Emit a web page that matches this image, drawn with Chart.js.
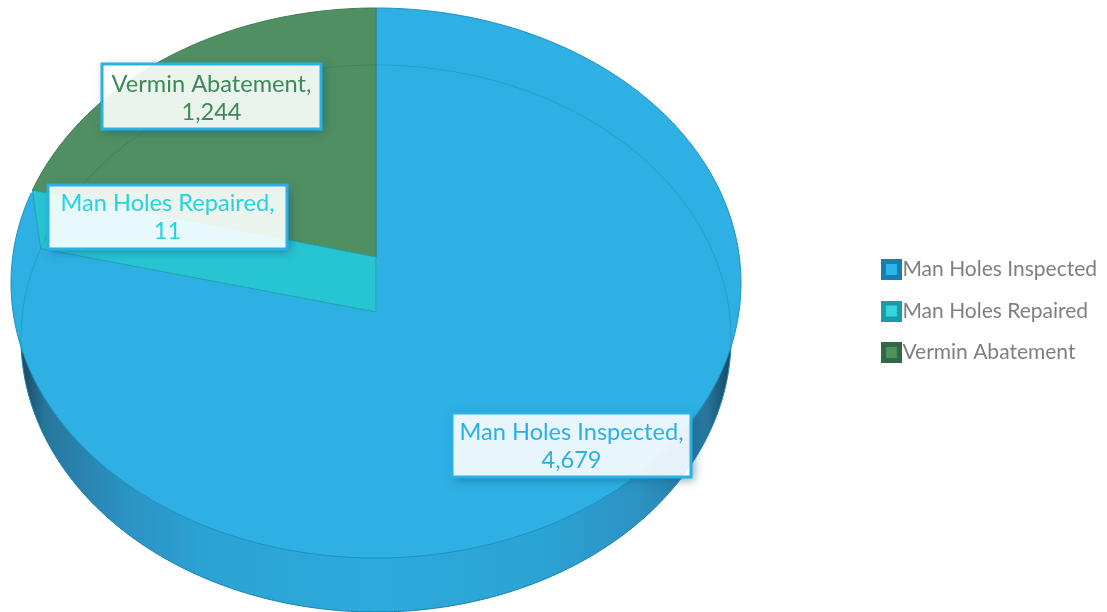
<!DOCTYPE html>
<html>
<head>
<meta charset="utf-8">
<title>Man Holes</title>
<script src="https://cdn.jsdelivr.net/npm/chart.js@4"></script>
<style>
  html, body { margin: 0; padding: 0; background: #fff; overflow: hidden; }
  canvas { display: block; }
</style>
</head>
<body>
<canvas id="chart" width="1107" height="612"></canvas>
<script>
// ===== data =====
const categories = ["Man Holes Inspected", "Man Holes Repaired", "Vermin Abatement"];
const values = [4679, 11, 1244];

// ===== styles =====
const FONT = "Lato, sans-serif";
const faceColors = ["#2EB0E4", "#26C5D1", "#4F8F61"];
const rimColors = ["#1E90C0", "#1FA5B0", "#3F7C52"];
const labelColors = ["#2BB0E6", "#28D2DC", "#3C8A58"];
const swatchOuter = ["#1A7DB1", "#1A9CA6", "#2F6A44"];
const swatchInner = ["#2EB4EC", "#35D4DF", "#4F9060"];
// label box as [left, top, right, bottom], then first text line below the box top
const labelBoxes = [[452, 413, 691, 477], [48, 185, 287, 249], [102, 64, 321, 129]];
const labelTextTop = [19, 18, 20];

// the pie is tilted: two rims (top of the disc, bottom of the disc) seen in perspective
const topRim = makeRim(376, 257, 8, 558, 365);
const bottomRim = makeRim(376, 312, 65, 612, 355);

// homography y = (q*v + apex) / (1 + k*v), so v=-1 lands on top and v=1 on bottom
function makeRim(cx, apex, top, bottom, rx) {
  const k = (bottom + top - 2 * apex) / (top - bottom);
  const q = (bottom * (1 + k)) - apex;
  return { cx, apex, k, q, d: rx * Math.sqrt(1 - k * k) };
}

function project(rim, angle) {
  const u = Math.cos(angle), v = Math.sin(angle);
  const w = 1 + rim.k * v;
  return [rim.cx + rim.d * u / w, (rim.q * v + rim.apex) / w];
}

function rimPath(ctx, rim, from, to) {
  const steps = Math.max(2, Math.ceil((to - from) / 0.01));
  for (let i = 0; i <= steps; i++) {
    const p = project(rim, from + (to - from) * i / steps);
    ctx.lineTo(p[0], p[1]);
  }
}

function sector(ctx, rim, arc) {
  ctx.beginPath();
  ctx.moveTo(rim.cx, rim.apex);
  rimPath(ctx, rim, arc.startAngle, arc.endAngle);
  ctx.closePath();
}

function wallGradient(ctx) {
  const g = ctx.createLinearGradient(20, 0, 732, 0);
  g.addColorStop(0, "#17445C");
  g.addColorStop(0.035, "#27769C");
  g.addColorStop(0.15, "#2B93C3");
  g.addColorStop(0.27, "#2CA3D5");
  g.addColorStop(0.5, "#2DA9DB");
  g.addColorStop(0.73, "#2CA3D5");
  g.addColorStop(0.87, "#2B93C3");
  g.addColorStop(0.965, "#27769C");
  g.addColorStop(1, "#17445C");
  return g;
}

const pie3d = {
  id: "pie3d",
  beforeDatasetDraw(chart, args) {
    const ctx = chart.ctx;
    const arcs = args.meta.data;
    ctx.save();
    ctx.lineJoin = "round";

    // side wall: the biggest slice seen on the bottom rim
    sector(ctx, bottomRim, arcs[0]);
    ctx.fillStyle = wallGradient(ctx);
    ctx.fill();
    ctx.strokeStyle = "#1E90C0";
    ctx.lineWidth = 1;
    ctx.stroke();

    // top faces
    [0, 2, 1].forEach(i => {
      const arc = arcs[i];
      if (i === 1) {
        // thin slice, its cut wall is what shows
        const a = project(topRim, arc.endAngle), b = project(bottomRim, arc.startAngle);
        ctx.beginPath();
        ctx.moveTo(topRim.cx, topRim.apex);
        ctx.lineTo(a[0], a[1]);
        ctx.lineTo(b[0], b[1]);
        ctx.lineTo(bottomRim.cx, bottomRim.apex);
        ctx.closePath();
      } else {
        sector(ctx, topRim, arc);
      }
      ctx.fillStyle = faceColors[i];
      ctx.fill();
      ctx.strokeStyle = rimColors[i];
      ctx.lineWidth = 1;
      ctx.stroke();
    });

    // bottom rim shows faintly through the disc
    ctx.beginPath();
    rimPath(ctx, bottomRim, 0, Math.PI * 2);
    ctx.strokeStyle = "rgba(0,60,90,0.16)";
    ctx.lineWidth = 1;
    ctx.stroke();

    ctx.restore();
    return false;
  },
  afterDraw(chart) {
    const ctx = chart.ctx;
    labelBoxes.forEach((box, i) => {
      const [l, t, r, b] = box;
      const w = r - l, h = b - t;
      ctx.save();
      // shadow only outside of the box
      ctx.save();
      ctx.beginPath();
      ctx.rect(0, 0, chart.width, chart.height);
      ctx.rect(l, t, w, h);
      ctx.clip("evenodd");
      ctx.shadowColor = "rgba(20,90,130,0.55)";
      ctx.shadowBlur = 9;
      ctx.shadowOffsetX = 3;
      ctx.shadowOffsetY = 3;
      ctx.fillStyle = "#2BB0E6";
      ctx.fillRect(l, t, w, h);
      ctx.restore();
      ctx.fillStyle = "rgba(255,255,255,0.89)";
      ctx.fillRect(l, t, w, h);
      ctx.strokeStyle = "#2BB0E6";
      ctx.lineWidth = 3;
      ctx.strokeRect(l, t, w, h);
      ctx.fillStyle = labelColors[i];
      ctx.font = "23.6px " + FONT;
      ctx.textAlign = "center";
      ctx.textBaseline = "middle";
      const mid = (l + r) / 2;
      ctx.fillText(categories[i] + ",", mid, t + labelTextTop[i]);
      ctx.fillText(values[i].toLocaleString("en-US"), mid, t + labelTextTop[i] + 28);
      ctx.restore();
    });
  }
};

function swatch(i) {
  const c = document.createElement("canvas");
  c.width = 21; c.height = 21;
  const g = c.getContext("2d");
  g.fillStyle = swatchOuter[i];
  g.fillRect(0, 0, 21, 21);
  g.fillStyle = swatchInner[i];
  g.fillRect(5, 5, 11, 11);
  return c;
}

new Chart(document.getElementById("chart"), {
  type: "pie",
  data: {
    labels: categories,
    datasets: [{ data: values, backgroundColor: faceColors }]
  },
  options: {
    responsive: false,
    animation: false,
    layout: { padding: { right: 0, top: 10 } },
    plugins: {
      tooltip: { enabled: false },
      legend: {
        position: "right",
        labels: {
          usePointStyle: true,
          boxWidth: 1,
          padding: 20.5,
          color: "#7F7F7F",
          font: { family: FONT, size: 21 },
          generateLabels: () => categories.map((name, i) => ({
            text: name, pointStyle: swatch(i), fontColor: "#7F7F7F",
            hidden: false, index: i, lineWidth: 0
          }))
        }
      }
    }
  },
  plugins: [pie3d]
});
</script>
</body>
</html>
